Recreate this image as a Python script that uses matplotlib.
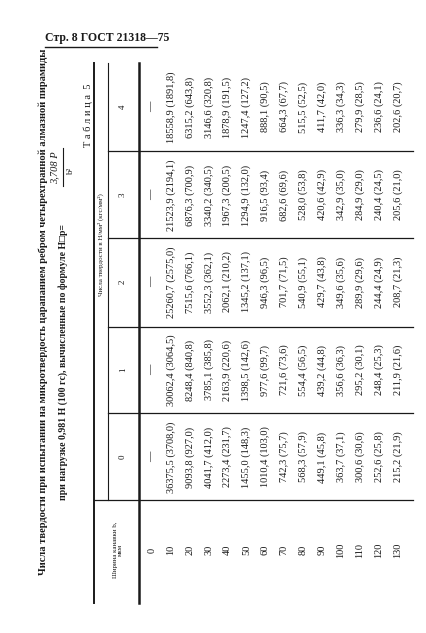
import matplotlib
matplotlib.use("Agg")
import matplotlib.pyplot as plt

widths = ["0", "10", "20", "30", "40", "50", "60", "70", "80", "90", "100", "110", "120", "130"]
col_headers = ["0", "1", "2", "3", "4"]
col0 = ["—", "36375,5 (3708,0)", "9093,8 (927,0)", "4041,7 (412,0)", "2273,4 (231,7)", "1455,0 (148,3)",
        "1010,4 (103,0)", "742,3 (75,7)", "568,3 (57,9)", "449,1 (45,8)", "363,7 (37,1)", "300,6 (30,6)",
        "252,6 (25,8)", "215,2 (21,9)"]
col1 = ["—", "30062,4 (3064,5)", "8248,4 (840,8)", "3785,1 (385,8)", "2163,9 (220,6)", "1398,5 (142,6)",
        "977,6 (99,7)", "721,6 (73,6)", "554,4 (56,5)", "439,2 (44,8)", "356,6 (36,3)", "295,2 (30,1)",
        "248,4 (25,3)", "211,9 (21,6)"]
col2 = ["—", "25260,7 (2575,0)", "7515,6 (766,1)", "3552,3 (362,1)", "2062,1 (210,2)", "1345,2 (137,1)",
        "946,3 (96,5)", "701,7 (71,5)", "540,9 (55,1)", "429,7 (43,8)", "349,6 (35,6)", "289,9 (29,6)",
        "244,4 (24,9)", "208,7 (21,3)"]
col3 = ["—", "21523,9 (2194,1)", "6876,3 (700,9)", "3340,2 (340,5)", "1967,3 (200,5)", "1294,9 (132,0)",
        "916,5 (93,4)", "682,6 (69,6)", "528,0 (53,8)", "420,6 (42,9)", "342,9 (35,0)", "284,9 (29,0)",
        "240,4 (24,5)", "205,6 (21,0)"]
col4 = ["—", "18558,9 (1891,8)", "6315,2 (643,8)", "3146,6 (320,8)", "1878,9 (191,5)", "1247,4 (127,2)",
        "888,1 (90,5)", "664,3 (67,7)", "515,5 (52,5)", "411,7 (42,0)", "336,3 (34,3)", "279,9 (28,5)",
        "236,6 (24,1)", "202,6 (20,7)"]
columns = [col0, col1, col2, col3, col4]

fig = plt.figure(figsize=(4.27, 6.33), dpi=100)
ax = fig.add_axes([0, 0, 1, 1])
ax.set_xlim(0, 427)
ax.set_ylim(633, 0)
ax.axis("off")
FONT = ["Liberation Serif", "DejaVu Serif"]
ink = "#1a1a1a"

ax.text(45, 38, "Стр. 8 ГОСТ 21318—75", fontsize=8.5, fontweight="bold", family=FONT,
        ha="left", va="center", color=ink)
ax.plot([45, 157], [47, 47], color=ink, lw=1)

ax.text(43, 312, "Числа твердости при испытании на микротвердость царапанием ребром четырехгранной алмазной пирамиды",
        rotation=90, fontsize=7.6, fontweight="bold", family=FONT, ha="center", va="center", color=ink)
ax.text(63, 500, "при нагрузке 0,981 Н (100 гс), вычисленные по формуле H□р=",
        rotation=90, fontsize=7.0, fontweight="bold", family=FONT, ha="left", va="center",
        rotation_mode="anchor", color=ink)
ax.text(55, 168, "3,708 P", rotation=90, fontsize=7.5, style="italic", family=FONT, ha="center", va="center", color=ink)
ax.plot([63, 63], [148, 186], color=ink, lw=0.8)
ax.text(71, 170, "b²", rotation=90, fontsize=6.5, family=FONT, ha="center", va="center", color=ink)
ax.text(88, 115, "Т а б л и ц а  5", rotation=90, fontsize=7.5, family=FONT, ha="center", va="center", color=ink)

ax.plot([94, 94], [63, 603], color=ink, lw=1.4)
ax.plot([108, 108], [63, 500], color=ink, lw=0.8)
ax.plot([139, 139], [63, 603], color=ink, lw=1.8)
seps = [151, 238, 327, 413]
for s in seps:
    ax.plot([108, 413], [s, s], color=ink, lw=0.9)
ax.plot([94, 413], [500, 500], color=ink, lw=0.9)

ax.text(101, 245, "Числа твердости в Н/мм² (кгс/мм²)", rotation=90, fontsize=5, family=FONT,
        ha="center", va="center", color=ink)
centers = [457, 370, 282, 195, 107]
for c, h in zip(centers, col_headers):
    ax.text(123, c, h, rotation=90, fontsize=6.5, family=FONT, ha="center", va="center", color=ink)
ax.text(118, 550, "Ширина канавки b,\nмкм", rotation=90, fontsize=5, family=FONT,
        ha="center", va="center", color=ink, linespacing=1.1)

xs = [152 + i * 18.9 for i in range(len(widths))]
for x, w in zip(xs, widths):
    ax.text(x, 550, w, rotation=90, fontsize=7.5, family=FONT, ha="center", va="center", color=ink)
for c, col in zip(centers, columns):
    for x, v in zip(xs, col):
        ax.text(x, c, v, rotation=90, fontsize=7.5, family=FONT, ha="center", va="center", color=ink)

fig.savefig("out.png", dpi=100, facecolor="white")
